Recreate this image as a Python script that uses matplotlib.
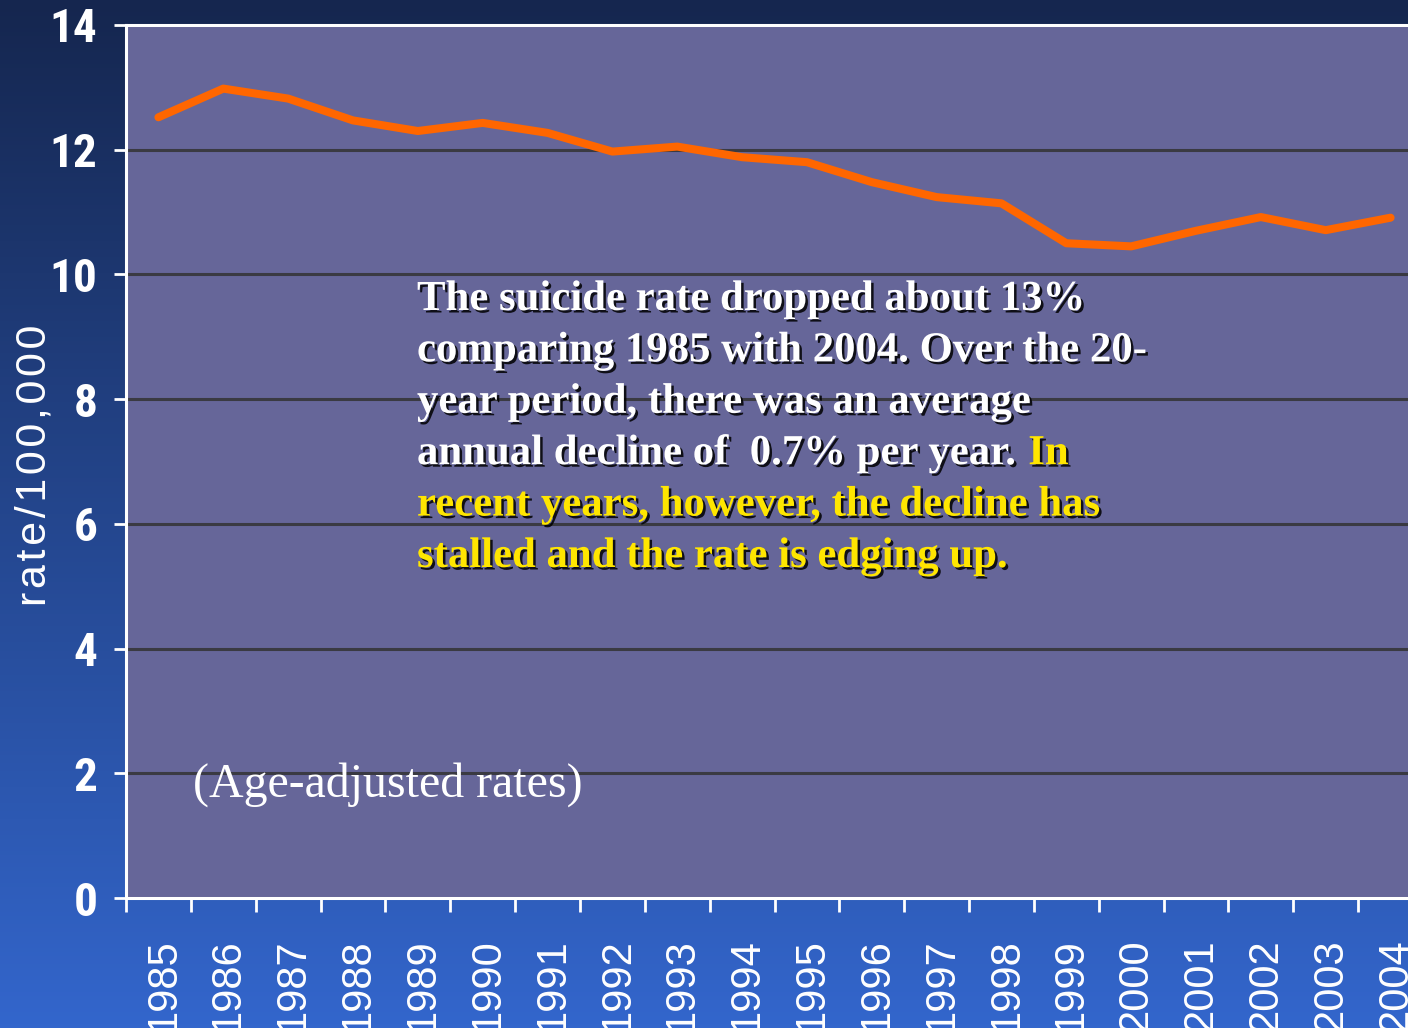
import numpy as np
import matplotlib
matplotlib.use("Agg")
import matplotlib.pyplot as plt
import matplotlib.patheffects as pe
from matplotlib.colors import LinearSegmentedColormap
from matplotlib.transforms import ScaledTranslation

years = ["1985", "1986", "1987", "1988", "1989", "1990", "1991", "1992", "1993", "1994",
         "1995", "1996", "1997", "1998", "1999", "2000", "2001", "2002", "2003", "2004"]
rates = [12.52, 12.98, 12.82, 12.47, 12.30, 12.43, 12.27, 11.97, 12.05, 11.88,
         11.80, 11.48, 11.24, 11.14, 10.50, 10.45, 10.70, 10.92, 10.71, 10.91]
yticks = [0, 2, 4, 6, 8, 10, 12, 14]
ylabel = "rate/100,000"

white_lines = ["The suicide rate dropped about 13%",
               "comparing 1985 with 2004. Over the 20-",
               "year period, there was an average",
               "annual decline of  0.7% per year."]
yellow_first = "In"
yellow_lines = ["recent years, however, the decline has",
                "stalled and the rate is edging up."]
note = "(Age-adjusted rates)"

W, H = 1408, 1028
fig = plt.figure(figsize=(W / 100, H / 100), dpi=100)

# background gradient
bg = fig.add_axes([0, 0, 1, 1], zorder=-10)
cmap = LinearSegmentedColormap.from_list("bg", ["#15264f", "#3366cc"])
grad = np.linspace(0, 1, 256).reshape(-1, 1)
bg.imshow(grad, aspect="auto", cmap=cmap, extent=[0, 1, 0, 1], origin="upper")
bg.set_axis_off()

ax = fig.add_axes([126 / W, 130 / H, 1297 / W, 873 / H])
ax.set_facecolor("#666699")
x = np.arange(len(years)) + 0.5
ax.plot(x, rates, color="#ff6600", lw=5.8, solid_capstyle="round", zorder=3)

ax.set_xlim(0, len(years))
ax.set_ylim(0, 14)
ax.set_yticks(yticks)
ax.grid(axis="y", color="#3a3a42", lw=2.2, zorder=1)
ax.set_axisbelow(True)

for s in ax.spines.values():
    s.set_color("white")
    s.set_linewidth(2.2)

narrow = ["Roboto Condensed", "DejaVu Sans"]
sans = ["Liberation Sans", "DejaVu Sans"]

ax.set_xticks(np.arange(len(years) + 1))
ax.set_xticklabels([])
ax.set_xticks(x, labels=years, minor=True)
ax.tick_params(axis="x", which="major", length=10, width=2, color="white", direction="out")
ax.tick_params(axis="x", which="minor", length=0, pad=29, labelrotation=90,
               labelsize=30, labelcolor="white")
shift = ScaledTranslation(5 / 100, 0, fig.dpi_scale_trans)
for t in ax.get_xticklabels(minor=True):
    t.set_fontfamily(sans)
    t.set_transform(t.get_transform() + shift)

ax.tick_params(axis="y", length=8.5, width=2, color="white", pad=12,
               labelsize=34, labelcolor="white")
for t in ax.get_yticklabels():
    t.set_fontfamily(narrow)
    t.set_fontstretch("condensed")
    t.set_fontweight("bold")

# letter-spaced axis title
fig.text(35 / W, 1 - 465 / H, "\u200a".join(ylabel), rotation=90, ha="center", va="center",
         color="white", fontsize=31, family=sans)

shadow = [pe.withSimplePatchShadow(offset=(1.8, -1.8), shadow_rgbFace="black", alpha=0.85)]
serif = ["Liberation Serif", "DejaVu Serif"]
fs = 30.8
x0 = 417 / W
dy = 51.4
base = 310
for i, line in enumerate(white_lines):
    t = fig.text(x0, 1 - (base + i * dy) / H, line, ha="left", va="baseline", color="white",
                 fontsize=fs, fontweight="bold", family=serif, path_effects=shadow)
last = t
fig.canvas.draw()
ax.annotate(yellow_first, xy=(1, 0), xycoords=last, xytext=(9, 0),
            textcoords="offset points", ha="left", va="bottom", color="#ffe600",
            fontsize=fs, fontweight="bold", family=serif, path_effects=shadow,
            annotation_clip=False)
for j, line in enumerate(yellow_lines):
    i = len(white_lines) + j
    fig.text(x0, 1 - (base + i * dy) / H, line, ha="left", va="baseline", color="#ffe600",
             fontsize=fs, fontweight="bold", family=serif, path_effects=shadow)

fig.text(193 / W, 1 - 797 / H, note, ha="left", va="baseline", color="white",
         fontsize=34.5, family=serif)

fig.savefig("out.png", dpi=100)
